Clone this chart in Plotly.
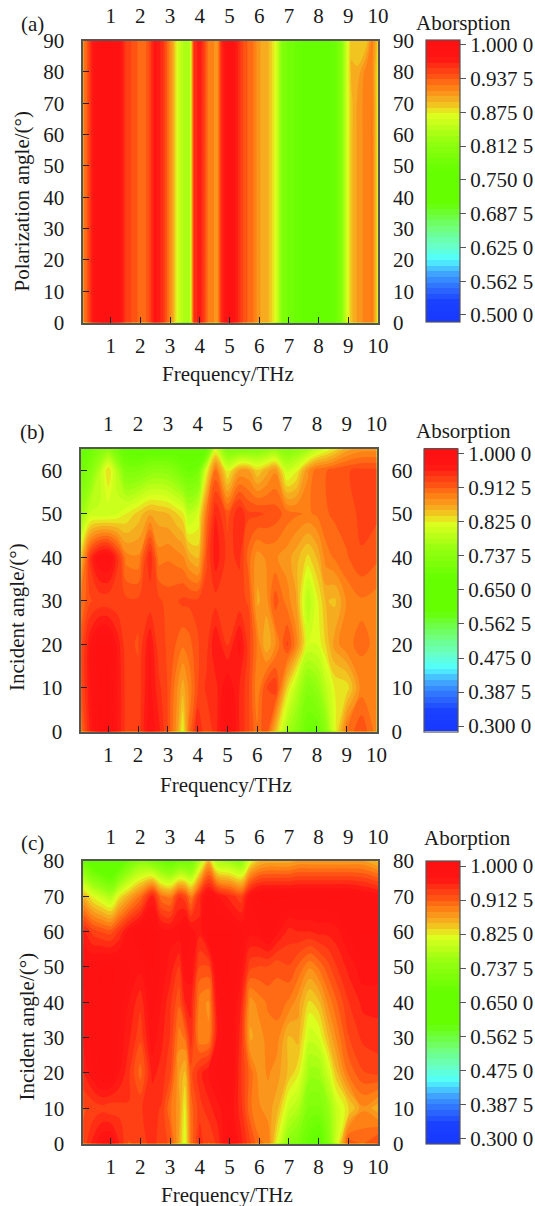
import plotly.graph_objects as go

W, H = 535, 1206
FONT = "Liberation Serif"
INK = "#555555"

# ---------- panel (a) data ----------
freq_a = [0.08, 0.2, 0.4, 0.7, 1.0, 1.3, 1.5, 1.8, 2.1, 2.3, 2.5, 2.75, 2.95, 3.1, 3.25, 3.45, 3.65, 3.72, 3.8,
          4.0, 4.15, 4.3, 4.6, 4.72, 5.0, 5.25, 5.5, 5.8, 6.0, 6.3, 6.45, 6.6, 6.8, 7.5, 8.0, 8.5, 8.75, 8.95,
          9.1, 9.3, 9.6, 9.8, 9.95, 10.0]
angles_a = [0, 10, 20, 30, 40, 50, 60, 70, 80, 90]
abs_a_low = [0.92, 0.935, 0.975, 1.0, 1.0, 0.985, 0.955, 0.94, 0.925, 0.945, 0.98, 0.96, 0.925, 0.90, 0.865, 0.84, 0.835, 0.88, 0.955,
             0.975, 0.95, 0.92, 0.91, 0.96, 1.0, 0.97, 0.94, 0.925, 0.905, 0.895, 0.88, 0.86, 0.795, 0.765, 0.76, 0.77, 0.80, 0.86,
             0.89, 0.905, 0.92, 0.925, 0.885, 0.87]
abs_a_80 = abs_a_low[:-6] + [0.895, 0.895, 0.92, 0.92, 0.885, 0.875]
abs_a_90 = abs_a_low[:-6] + [0.89, 0.885, 0.885, 0.92, 0.895, 0.88]
rows_a = [abs_a_low] * 8 + [abs_a_80, abs_a_90]

# ---------- panels (b), (c) data ----------
freq_bc = [0.08, 0.4, 0.7, 1.0, 1.3, 1.6, 2.0, 2.4, 2.7, 3.0, 3.3, 3.5, 3.7, 4.0, 4.3, 4.6, 5.0, 5.4, 5.7, 6.0, 6.3, 6.6,
           7.0, 7.3, 7.7, 8.0, 8.3, 8.6, 9.0, 9.5, 10.0]
angles_b = [0, 10, 20, 30, 40, 50, 60, 65]
b_00 = [.90, .96, 1.0, 1.0, .97, .935, .93, .985, .96, .925, .875, .82, .90, .96, .925, .95, 1.0, .955, .93, .90, .925, .855, .77, .74, .69, .69, .74, .82, .90, .925, .89]
b_10 = [.92, .97, 1.0, 1.0, .97, .935, .93, .975, .945, .925, .885, .86, .885, .925, .945, .95, .985, .955, .93, .885, .925, .94, .84, .79, .73, .75, .79, .825, .83, .89, .89]
b_20 = [.92, .97, 1.0, 1.0, .965, .93, .925, .97, .93, .925, .91, .90, .905, .925, .935, .97, .94, .975, .935, .895, .855, .88, .93, .89, .81, .81, .84, .875, .895, .90, .895]
b_30 = [.90, .925, .93, .93, .93, .93, .93, .93, .93, .92, .925, .93, .93, .93, .93, .935, .93, .93, .925, .865, .875, .92, .89, .87, .78, .82, .855, .85, .885, .895, .89]
b_40 = [.845, .945, .985, .99, .945, .89, .885, .955, .89, .895, .89, .885, .865, .85, .925, .965, .935, .945, .905, .875, .885, .885, .875, .86, .835, .855, .89, .90, .91, .925, .915]
b_50 = [.76, .80, .80, .80, .81, .825, .845, .865, .86, .855, .84, .83, .79, .81, .90, .955, .92, .955, .93, .93, .925, .92, .905, .90, .895, .90, .91, .915, .92, .93, .93]
b_60 = [.70, .73, .78, .84, .78, .72, .72, .74, .745, .74, .72, .70, .69, .70, .82, .90, .82, .87, .87, .84, .86, .88, .80, .82, .88, .905, .91, .92, .925, .93, .93]
b_65 = [.68, .69, .72, .74, .70, .67, .66, .66, .66, .66, .66, .66, .66, .66, .67, .81, .72, .72, .72, .73, .74, .75, .73, .74, .76, .79, .81, .83, .86, .875, .875]
rows_b = [b_00, b_10, b_20, b_30, b_40, b_50, b_60, b_65]

angles_c = [0, 10, 20, 30, 40, 50, 60, 70, 80]
c_00 = [.93, .96, .985, .99, .955, .925, .93, .95, .93, .925, .865, .81, .90, .95, .925, .945, 1.0, .96, .93, .90, .895, .82, .74, .72, .68, .66, .72, .81, .92, .91, .93]
c_10 = [.925, .93, .935, .93, .935, .94, .94, .945, .94, .90, .875, .82, .905, .935, .95, .965, .985, .945, .90, .885, .875, .86, .80, .78, .72, .72, .75, .80, .835, .88, .86]
c_20 = [.955, .98, 1.0, 1.0, .97, .945, .905, .96, .95, .93, .87, .85, .92, .95, .97, .99, 1.0, .94, .905, .875, .885, .875, .85, .83, .76, .76, .80, .85, .90, .925, .93]
c_30 = [.975, .99, 1.0, 1.0, .98, .96, .93, .98, .96, .94, .89, .90, .95, .885, .885, .97, 1.0, .945, .865, .875, .89, .89, .85, .86, .80, .81, .85, .885, .925, .945, .95]
c_40 = [.98, .99, 1.0, 1.0, .99, .97, .945, .99, .97, .945, .915, .955, .96, .89, .88, .98, 1.0, .955, .875, .89, .90, .905, .895, .875, .835, .85, .885, .91, .94, .96, .96]
c_50 = [.99, .99, 1.0, 1.0, .995, .985, .975, 1.0, .98, .965, .94, .98, .98, .925, .925, 1.0, 1.0, .975, .93, .925, .925, .915, .925, .91, .885, .90, .92, .94, .96, .98, .98]
c_60 = [.96, .935, .925, .92, .945, .975, 1.0, 1.0, .98, .975, .98, 1.0, .98, .96, 1.0, 1.0, 1.0, .985, .975, .98, .995, .975, .95, .955, .955, .96, .96, .965, .985, 1.0, 1.0]
c_70 = [.86, .82, .80, .78, .83, .86, .90, .96, .90, .89, .94, .93, .89, .95, .99, .97, .95, .93, .98, 1.0, 1.0, 1.0, 1.0, 1.0, 1.0, 1.0, 1.0, 1.0, 1.0, .99, .98]
c_80 = [.70, .65, .62, .60, .65, .70, .74, .72, .70, .68, .70, .70, .70, .78, .86, .77, .76, .74, .82, .85, .86, .86, .86, .87, .87, .87, .87, .87, .87, .87, .85]
rows_c = [c_00, c_10, c_20, c_30, c_40, c_50, c_60, c_70, c_80]

# ---------- ticks / labels ----------
freq_ticks = [1, 2, 3, 4, 5, 6, 7, 8, 9, 10]
cb_vals_a = [1.0, 0.9375, 0.875, 0.8125, 0.75, 0.6875, 0.625, 0.5625, 0.5]
cb_text_a = ["1.000 0", "0.937 5", "0.875 0", "0.812 5", "0.750 0", "0.687 5", "0.625 0", "0.562 5", "0.500 0"]
cb_vals_bc = [1.0, 0.9125, 0.825, 0.7375, 0.65, 0.5625, 0.475, 0.3875, 0.3]
cb_text_bc = ["1.000 0", "0.912 5", "0.825 0", "0.737 5", "0.650 0", "0.562 5", "0.475 0", "0.387 5", "0.300 0"]

colorscale = [
    [0.0, "#1838ff"], [0.069, "#1a40ff"], [0.116, "#2c68ff"], [0.163, "#3c98ff"], [0.193, "#48c8ff"],
    [0.222, "#50ffff"], [0.27, "#68ffc8"], [0.329, "#70ff80"], [0.388, "#6cff30"], [0.423, "#66ff00"],
    [0.541, "#66ff00"], [0.636, "#90ff10"], [0.736, "#e0ff20"], [0.76, "#f0d020"], [0.80, "#f8a01e"],
    [0.837, "#ff7a14"], [0.878, "#ff4a14"], [0.937, "#ff1414"], [1.0, "#ff1010"],
]

panels = [
    dict(x=freq_a, y=angles_a, z=rows_a, lo=0.486, hi=1.008, vals=cb_vals_a, text=cb_text_a, x0=0.08,
         left=83.3, right=378, top=40.5, bot=322.5, yr=[0, 90], yt=list(range(0, 91, 10)), cbx=426),
    dict(x=freq_bc, y=angles_b, z=rows_b, lo=0.286, hi=1.0137, vals=cb_vals_bc, text=cb_text_bc, x0=0.09,
         left=81.2, right=376.5, top=448.5, bot=731.5, yr=[0, 65], yt=list(range(0, 61, 10)), cbx=424),
    dict(x=freq_bc, y=angles_c, z=rows_c, lo=0.286, hi=1.0137, vals=cb_vals_bc, text=cb_text_bc, x0=0.08,
         left=83.3, right=378, top=861, bot=1143.5, yr=[0, 80], yt=list(range(0, 81, 10)), cbx=426),
]

notes = [
    ("(a)", 32.4, 24, 0), ("(b)", 32.4, 432, 0), ("(c)", 32.4, 843, 0),
    ("Aborsption", 463, 23, 0), ("Absorption", 463, 431, 0), ("Aborption", 467.6, 838, 0),
    ("Frequency/THz", 227.6, 374, 0), ("Frequency/THz", 226, 785, 0), ("Frequency/THz", 227.3, 1194.5, 0),
    ("Polarization angle/(°)", 21.5, 202, -90), ("Incident angle/(°)", 17, 617, -90), ("Incident angle/(°)", 26.6, 1027, -90),
]

fig = go.Figure()
layout = {}
for i, p in enumerate(panels):
    k = 2 * i
    a, b = k + 1, k + 2  # bottom/left axes, top/right axes
    dom_x = [p["left"] / W, p["right"] / W]
    dom_y = [1 - p["bot"] / H, 1 - p["top"] / H]
    step = (p["hi"] - p["lo"]) / 50
    fig.add_trace(go.Contour(
        x=p["x"], y=p["y"], z=p["z"], xaxis=f"x{a}", yaxis=f"y{a}",
        colorscale=colorscale, zmin=p["lo"], zmax=p["hi"], autocontour=False,
        contours=dict(start=p["lo"], end=p["hi"], size=step, coloring="fill", showlines=False),
        line=dict(width=0), hoverinfo="skip",
        colorbar=dict(
            x=p["cbx"] / W, xanchor="left", xpad=0, ypad=0, thickness=33.5, thicknessmode="pixels",
            y=(dom_y[0] + dom_y[1]) / 2, yanchor="middle", len=dom_y[1] - dom_y[0], lenmode="fraction",
            outlinecolor=INK, outlinewidth=1.2, ticks="outside", ticklen=6, tickwidth=1.2, tickcolor=INK,
            tickmode="array", tickvals=p["vals"], ticktext=p["text"],
            tickfont=dict(family=FONT, size=21, color="#1a1a1a"),
        ),
    ))
    # transparent companion trace so the duplicate top / right axes are kept
    fig.add_trace(go.Scatter(x=freq_ticks[:1], y=p["yt"][:1], xaxis=f"x{b}", yaxis=f"y{b}", mode="markers",
                             marker=dict(opacity=0), hoverinfo="skip", showlegend=False))
    common_x = dict(range=[p["x0"], 10], tickmode="array", tickvals=freq_ticks, ticktext=[str(t) for t in freq_ticks],
                    showgrid=False, zeroline=False, tickfont=dict(family=FONT, size=21, color="#1a1a1a"))
    common_y = dict(range=p["yr"], tickmode="array", tickvals=p["yt"], ticktext=[str(t) for t in p["yt"]],
                    showgrid=False, zeroline=False, tickfont=dict(family=FONT, size=21, color="#1a1a1a"))
    layout[f"xaxis{a}"] = dict(domain=dom_x, anchor=f"y{a}", side="bottom", ticks="inside", ticklen=6, tickwidth=1.2,
                               tickcolor="#222", showline=True, linecolor=INK, linewidth=1.5, mirror=True,
                               ticklabelstandoff=4, **common_x)
    layout[f"yaxis{a}"] = dict(domain=dom_y, anchor=f"x{a}", side="left", ticks="inside", ticklen=6, tickwidth=1.2,
                               tickcolor="#222", showline=True, linecolor=INK, linewidth=1.5, mirror=True,
                               ticklabelstandoff=13, **common_y)
    layout[f"xaxis{b}"] = dict(domain=dom_x, anchor=f"y{b}", overlaying=f"x{a}", side="top", ticks="", showline=False,
                               ticklabelstandoff=12, **common_x)
    layout[f"yaxis{b}"] = dict(domain=dom_y, anchor=f"x{b}", overlaying=f"y{a}", side="right", ticks="", showline=False,
                               ticklabelstandoff=14, **common_y)

anns = [dict(text=t, x=x / W, y=1 - y / H, xref="paper", yref="paper", xanchor="center", yanchor="middle",
             showarrow=False, textangle=r, font=dict(family=FONT, size=21, color="#1a1a1a")) for t, x, y, r in notes]

fig.update_layout(width=W, height=H, margin=dict(l=0, r=0, t=0, b=0, autoexpand=False), paper_bgcolor="white", plot_bgcolor="white",
                  showlegend=False, annotations=anns, **layout)
fig.write_html("out.html", config={"displayModeBar": False}, post_script="document.body.style.margin='0';")
